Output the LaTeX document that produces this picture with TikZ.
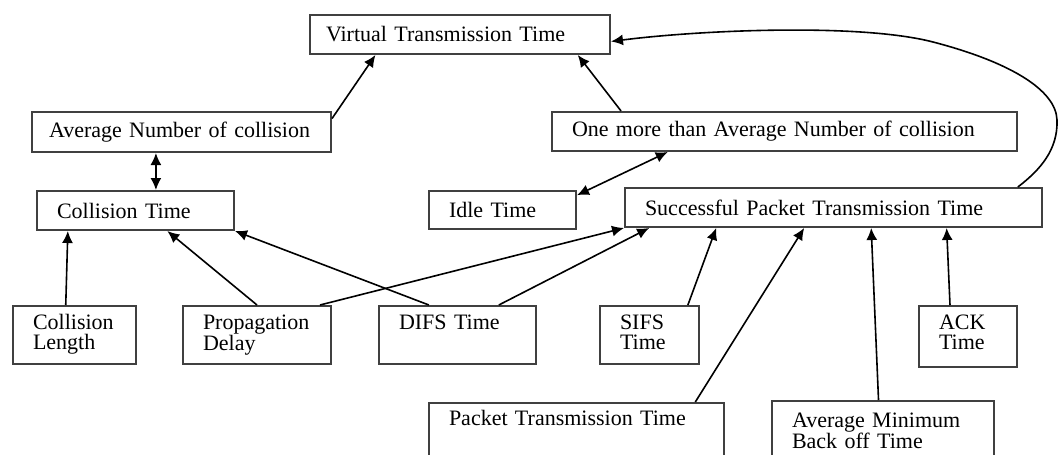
\documentclass[tikz,border=0pt]{standalone}
\usepackage{fontspec}
\setmainfont{Liberation Serif}
\usetikzlibrary{arrows.meta,calc}

\begin{document}
\begin{tikzpicture}[
        x=1pt, y=-1pt, % координаты в пикселях, ось y вниз
        >={Latex[length=12pt, width=11pt]},
        box/.style={draw=black!75, line width=2pt, rectangle, anchor=north west,
            align=left, inner xsep=20pt, inner ysep=0pt,
            font=\fontsize{22}{20}\selectfont}, % Стиль блоков
        low/.style={box, text height=23pt, text depth=35pt}, % текст прижат к верху
        arr/.style={draw, line width=1.6pt, ->},
    ]
    \useasboundingbox (0,0) rectangle (1058,455);

    % верхние уровни
    \node[box, inner xsep=16pt, text width=268pt, minimum height=39pt] (vtt) at (309,14) {Virtual Transmission Time};
    \node[box, inner xsep=17pt, text width=265pt, minimum height=40pt] (anc) at (31,111) {Average Number of collision};
    \node[box, text width=425pt, minimum height=39pt] (omanc) at (551,111) {One more than Average Number of collision};
    \node[box, text width=157pt, minimum height=39pt] (ct) at (36,190) {Collision Time};
    \node[box, text width=107pt, minimum height=38pt] (idle) at (428,190) {Idle Time};
    \node[box, text width=377pt, minimum height=39pt] (sptt) at (624,187) {Successful Packet Transmission Time};

    % нижний уровень
    \node[low, text width=83pt] (cl) at (12,305) {Collision\\Length};
    \node[low, text width=108pt] (pd) at (182,305) {Propagation\\Delay};
    \node[low, text width=117pt] (difs) at (378,305) {DIFS Time};
    \node[low, text width=59pt] (sifs) at (599,305) {SIFS\\Time};
    \node[low, text width=58pt, text depth=38pt] (ack) at (918,305) {ACK\\Time};
    \node[low, text width=255pt, text height=22pt, text depth=70pt] (ptt) at (428,402) {Packet Transmission Time};
    \node[low, text width=182pt, text height=26pt, text depth=70pt] (ambt) at (771,400) {Average Minimum\\Back off Time};

    % связи
    \draw[arr] ($(anc.north east)!.18!(anc.south east)$) -- ($(vtt.south west)!.22!(vtt.south east)$);
    \draw[arr] ($(omanc.north west)!.15!(omanc.north east)$) -- ($(vtt.south west)!.89!(vtt.south east)$);
    \coordinate (m) at ($(anc.south west)!.415!(anc.south east)$);
    \draw[arr, <->] (m) -- (m |- ct.north);
    \draw[arr, <->] ($(omanc.south west)!.25!(omanc.south east)$) -- ($(idle.north east)!.13!(idle.south east)$);
    \draw[arr] ($(sptt.north west)!.94!(sptt.north east)$) .. controls (1040,170) and (1058,150) .. (1057,120)
        .. controls (1056,90) and (1010,62) .. (933,42)
        .. controls (860,23) and (700,30) .. ($(vtt.north east)!.67!(vtt.south east)$);

    \draw[arr] ($(cl.north west)!.43!(cl.north east)$) -- ($(ct.south west)!.16!(ct.south east)$);
    \draw[arr] (pd.north) -- ($(ct.south west)!.66!(ct.south east)$);
    \draw[arr] ($(difs.north west)!.32!(difs.north east)$) -- (ct.south east);
    \draw[arr] ($(pd.north west)!.92!(pd.north east)$) -- (sptt.south west);
    \draw[arr] ($(difs.north west)!.76!(difs.north east)$) -- ($(sptt.south west)!.06!(sptt.south east)$);
    \draw[arr] ($(sifs.north west)!.88!(sifs.north east)$) -- ($(sptt.south west)!.22!(sptt.south east)$);
    \draw[arr] ($(ptt.north west)!.90!(ptt.north east)$) -- ($(sptt.south west)!.43!(sptt.south east)$);
    \draw[arr] ($(ambt.north west)!.48!(ambt.north east)$) -- ($(sptt.south west)!.59!(sptt.south east)$);
    \draw[arr] ($(ack.north west)!.32!(ack.north east)$) -- ($(sptt.south west)!.77!(sptt.south east)$);
\end{tikzpicture}
\end{document}
